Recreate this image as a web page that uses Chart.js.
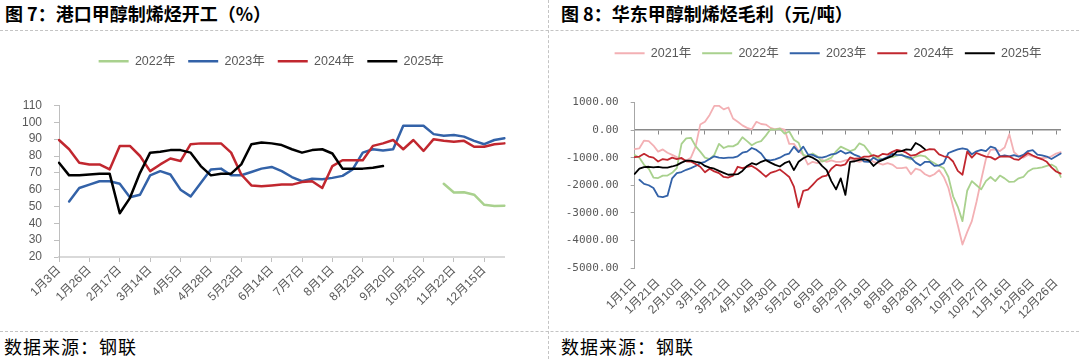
<!DOCTYPE html>
<html lang="zh-CN">
<head>
<meta charset="utf-8">
<title>甲醇制烯烃开工与毛利</title>
<script src="https://cdn.jsdelivr.net/npm/chart.js@4.4.1/dist/chart.umd.min.js"></script>
<style>
    html, body { margin: 0; padding: 0; background: #ffffff; }
    #pagina { position: relative; width: 1079px; height: 359px; overflow: hidden;
              font-family: "Noto Sans CJK SC", sans-serif; color: #000; }
    .titulo { position: absolute; top: 2px; font-size: 18px; font-weight: 700; line-height: 22px; white-space: nowrap; }
    .fonte { position: absolute; top: 335px; font-size: 18px; line-height: 22px; letter-spacing: 1px; white-space: nowrap; }
    .traco-h { position: absolute; left: 0; width: 1079px; height: 0; border-top: 1px dashed #C4C4C4; }
    .traco-v { position: absolute; left: 548px; top: 0; width: 0; height: 359px; border-left: 1px dashed #C4C4C4; }
    canvas { position: absolute; top: 31px; }
</style>
</head>
<body>
<div id="pagina">
    <div class="titulo" style="left:5px">图 7：港口甲醇制烯烃开工（%）</div>
    <div class="titulo" style="left:561px">图 8：华东甲醇制烯烃毛利（元/吨）</div>
    <div class="traco-h" style="top:30px"></div>
    <div class="traco-h" style="top:331px"></div>
    <div class="traco-v"></div>
    <canvas id="graficoKaigong" width="541" height="299" style="left:0"></canvas>
    <canvas id="graficoMargem" width="530" height="299" style="left:549px"></canvas>
    <div class="fonte" style="left:4px">数据来源：钢联</div>
    <div class="fonte" style="left:561px">数据来源：钢联</div>
</div>

<script>
// ==========================================
// DADOS
// ==========================================

// Gráfico 7: categorias semanais (rótulo visível a cada 3 pontos)
const datasKaigong = ['1月3日', '1月10日', '1月17日', '1月26日', '2月2日', '2月9日', '2月17日', '2月24日', '3月3日',
    '3月14日', '3月21日', '3月28日', '4月5日', '4月12日', '4月19日', '4月28日', '5月9日', '5月16日', '5月23日',
    '5月30日', '6月6日', '6月14日', '6月21日', '6月28日', '7月7日', '7月14日', '7月21日', '8月1日', '8月8日',
    '8月15日', '8月23日', '8月30日', '9月6日', '9月20日', '9月27日', '10月11日', '10月25日', '11月1日', '11月8日',
    '11月22日', '11月29日', '12月6日', '12月15日', '12月22日', '12月29日'];

const kaigong2022 = [null, null, null, null, null, null, null, null, null, null, null, null, null, null, null,
    null, null, null, null, null, null, null, null, null, null, null, null, null, null, null, null, null, null,
    null, null, null, null, null, 63.5, 58.3, 58.5, 57, 51, 50.3, 50.5];
const kaigong2023 = [null, 53, 61, 63, 65, 65, 63.5, 55.5, 57, 68.5, 71, 69, 60, 56, 64, 72, 72.5, 68.6, 68.6,
    70.5, 72.5, 73.5, 71, 67.5, 65, 66.5, 66.2, 67, 68.2, 72, 82, 84, 83.2, 84, 98, 98, 98, 93, 92, 92.5, 91.5,
    89, 87, 89.5, 90.5];
const kaigong2024 = [89.5, 84, 76, 75, 75, 72, 86, 86, 80, 71, 75, 78.5, 77, 87, 87.5, 87.5, 87.5, 82, 69, 62.5,
    62, 62.5, 63, 63, 64.5, 65, 61, 74, 77.5, 77.5, 77.5, 86, 87.5, 89.5, 84, 89.5, 83, 90, 89, 88.5, 89, 85.5,
    85.5, 87, 87.5];
const kaigong2025 = [76, 68.5, 68.5, 69, 69.5, 69.5, 46, 55, 70, 82, 82.5, 83.5, 83.5, 82, 74, 68.5, 69.5, 69.5,
    75, 87, 88, 87.5, 86.5, 84, 82, 83.5, 84, 81.5, 72.5, 72.5, 72.5, 73, 74];

// Gráfico 8: um ponto a cada 4 dias (ano bissexto), rótulo visível a cada 20 dias
const diasMargem = [];
for (let n = 0; n < 92; n++) {
    const dia = new Date(2024, 0, 1 + n * 4);
    diasMargem.push((dia.getMonth() + 1) + '月' + dia.getDate() + '日');
}

const margem2021 = [-690, -660, -380, -400, -560, -780, -700, -820, -900, -980, -1050, -1100, -1000, -600, 200,
    300, 550, 880, 880, 750, 820, 420, 300, 170, 80, 30, 300, 220, 200, 80, 30, 60, 20, -500, -500, -750, -900,
    -1250, -1150, -1200, -1080, -1150, -1100, -1150, -1150, -1100, -1050, -1100, -1150, -1100, -1050, -1150,
    -1200, -1250, -1200, -1250, -1380, -1380, -1350, -1600, -1400, -1450, -1600, -1680, -1600, -1450, -1700,
    -2100, -2780, -3450, -4150, -3700, -3300, -2600, -1800, -1050, -720, -700, -760, -630, -150, -800, -950,
    -1000, -900, -950, -1000, -1020, -1000, -950, -850, -800];
const margem2022 = [-900, -1000, -1260, -1400, -1720, -1740, -1650, -1650, -1550, -1380, -500, -300, -280, -580,
    -780, -1000, -1050, -900, -500, -650, -580, -590, -500, -260, -400, -550, -450, -400, -200, 30, 20, 50, -130,
    -50, -350, -460, -900, -950, -850, -950, -1140, -1080, -1000, -770, -600, -680, -760, -700, -480, -560, -780,
    -1000, -1000, -1080, -1000, -980, -930, -880, -1000, -1060, -960, -920, -950, -1100, -1200, -1300, -1380,
    -1700, -2400, -2780, -3300, -2200, -1850, -2000, -2150, -1850, -1700, -1850, -1650, -1750, -1880, -1870,
    -1750, -1700, -1500, -1400, -1380, -1350, -1300, -1250, -1350, -1700];
const margem2023 = [null, -1800, -1950, -2000, -2100, -2400, -2430, -2380, -1750, -1560, -1520, -1440, -1380,
    -1300, -1200, -1150, -1050, -950, -1000, -1020, -1000, -1000, -950, -820, -780, -650, -720, -850, -1080,
    -1100, -1060, -1000, -900, -850, -600, -800, -600, -880, -900, -980, -1000, -950, -880, -850, -750, -850,
    -800, -900, -960, -1140, -1150, -1000, -1100, -1050, -980, -860, -900, -910, -960, -1010, -1180, -1280,
    -1150, -1150, -1300, -1280, -1200, -830, -760, -700, -660, -700, -880, -770, -720, -760, -600, -650, -950,
    -920, -950, -910, -960, -900, -760, -730, -890, -920, -960, -1050, -950, -850];
const margem2024 = [-980, -960, -860, -960, -1000, -1140, -1050, -1080, -1000, -1050, -1010, -1130, -1140, -1230,
    -1330, -1530, -1400, -1500, -1560, -1700, -1720, -1650, -1330, -1380, -1330, -1300, -1400, -1540, -1690,
    -1550, -1500, -1430, -1560, -1700, -2050, -2800, -2200, -2160, -1990, -1800, -1690, -1650, -1400, -1260,
    -1290, -1240, -990, -1040, -1030, -960, -960, -910, -960, -860, -890, -790, -720, -750, -820, -930, -900,
    -800, -740, -690, -700, -880, -950, -980, -1140, -1480, -1620, -780, -1000, -830, -900, -960, -980, -1070,
    -960, -950, -960, -1050, -1080, -950, -830, -920, -1000, -1060, -1150, -1350, -1500, -1580];
const margem2025 = [-1590, -1400, -1340, -1330, -1350, -1330, -1360, -1360, -1320, -1270, -1180, -1110, -1110,
    -1150, -1180, -1300, -1360, -1400, -1480, -1550, -1620, -1610, -1600, -1480, -1300, -1200, -1250, -1150,
    -1090, -1180, -1260, -1320, -1200, -1130, -1450, -1150, -1020, -940, -1000, -1100, -1300, -1450, -1850,
    -2150, -1750, -2350, -1150, -1130, -1080, -1050, -1100, -1300, -1150, -1080, -1010, -940, -780, -760, -700,
    -720, -470, -560, -700];

// Cores das séries
const COR_2021 = '#F3B0B4';
const COR_2022 = '#A9D18E';
const COR_2023 = '#3362A8';
const COR_2024 = '#C1272F';
const COR_2025 = '#000000';
const COR_TEXTO = '#595959';
const FONTE = "'Liberation Sans', 'Noto Sans CJK SC', sans-serif";

// ==========================================
// CONFIGURAÇÃO DOS GRÁFICOS (Chart.js)
// ==========================================

document.addEventListener("DOMContentLoaded", () => {
    Chart.defaults.font.family = FONTE;
    Chart.defaults.color = COR_TEXTO;
    inicializarGraficoKaigong();
    inicializarGraficoMargem();
});

/**
 * Plugin: acrescenta espaço abaixo da legenda e desloca a legenda na horizontal
 */
const espacoLegenda = {
    id: 'espacoLegenda',
    beforeInit(chart, args, opts) {
        const fitOriginal = chart.legend.fit;
        chart.legend.fit = function () {
            fitOriginal.call(this);
            this.height += opts.extra || 0;
        };
    },
    afterLayout(chart, args, opts) {
        const dx = opts.deslocar || 0;
        chart.legend.left += dx;
        chart.legend.right += dx;
    }
};

function serie(rotulo, dados, cor, ordem, largura) {
    return {
        label: rotulo,
        data: dados,
        borderColor: cor,
        backgroundColor: cor,
        borderWidth: largura,
        order: ordem
    };
}

function legendaPadrao(espaco) {
    return {
        position: 'top',
        labels: {
            usePointStyle: true,
            pointStyle: 'line',
            pointStyleWidth: 30,
            padding: espaco,
            color: COR_TEXTO,
            font: { size: 12.5, family: FONTE },
            sort: (a, b) => a.datasetIndex - b.datasetIndex
        }
    };
}

/**
 * Gráfico 7: Taxa de operação MTO nos portos (%)
 */
function inicializarGraficoKaigong() {
    const ctxKaigong = document.getElementById('graficoKaigong');
    if (!ctxKaigong) return;

    new Chart(ctxKaigong.getContext('2d'), {
        type: 'line',
        data: {
            labels: datasKaigong,
            datasets: [
                serie('2022年', kaigong2022, COR_2022, 4, 2.5),
                serie('2023年', kaigong2023, COR_2023, 3, 2.5),
                serie('2024年', kaigong2024, COR_2024, 2, 2.5),
                serie('2025年', kaigong2025, COR_2025, 1, 2.5)
            ]
        },
        options: {
            responsive: false,
            animation: false,
            layout: { padding: { left: 0, right: 36.5, top: 11, bottom: 0 } },
            elements: {
                point: { radius: 0 },
                line: { tension: 0, borderJoinStyle: 'round', borderCapStyle: 'round' }
            },
            plugins: {
                legend: legendaPadrao(13),
                tooltip: { enabled: false },
                espacoLegenda: { extra: 28, deslocar: 19 }
            },
            scales: {
                x: {
                    grid: {
                        drawOnChartArea: false,
                        tickLength: 5,
                        tickColor: (c) => c.index % 3 === 0 ? '#BFBFBF' : 'rgba(0,0,0,0)'
                    },
                    border: { color: '#D9D9D9', width: 2 },
                    ticks: {
                        autoSkip: false,
                        minRotation: 45,
                        maxRotation: 45,
                        padding: 1,
                        color: COR_TEXTO,
                        font: { size: 12 },
                        callback: function (valor, i) {
                            return i % 3 === 0 ? this.getLabelForValue(valor) : '';
                        }
                    },
                    afterFit: (escala) => { escala.height = 73; }
                },
                y: {
                    min: 20,
                    max: 110,
                    ticks: { stepSize: 10, autoSkip: false, padding: 12, color: COR_TEXTO, font: { size: 12 } },
                    grid: { drawOnChartArea: false, tickLength: 5, tickColor: '#BFBFBF' },
                    border: { color: '#BFBFBF' },
                    afterFit: (escala) => { escala.width = 59; }
                }
            }
        },
        plugins: [espacoLegenda]
    });
}

/**
 * Gráfico 8: Margem bruta MTO no leste da China (元/吨)
 */
function inicializarGraficoMargem() {
    const ctxMargem = document.getElementById('graficoMargem');
    if (!ctxMargem) return;

    new Chart(ctxMargem.getContext('2d'), {
        type: 'line',
        data: {
            labels: diasMargem,
            datasets: [
                serie('2021年', margem2021, COR_2021, 5, 1.8),
                serie('2022年', margem2022, COR_2022, 4, 1.8),
                serie('2023年', margem2023, COR_2023, 3, 1.8),
                serie('2024年', margem2024, COR_2024, 2, 1.8),
                serie('2025年', margem2025, COR_2025, 1, 1.8)
            ]
        },
        options: {
            responsive: false,
            animation: false,
            layout: { padding: { left: 0, right: 11, top: 5, bottom: 0 } },
            elements: {
                point: { radius: 0 },
                line: { tension: 0, borderJoinStyle: 'round', borderCapStyle: 'round' }
            },
            plugins: {
                legend: legendaPadrao(11),
                tooltip: { enabled: false },
                espacoLegenda: { extra: 33, deslocar: 19.5 }
            },
            scales: {
                x: {
                    grid: { display: false, drawTicks: false },
                    border: { display: false },
                    ticks: {
                        autoSkip: false,
                        minRotation: 45,
                        maxRotation: 45,
                        padding: 8,
                        color: COR_TEXTO,
                        font: { size: 12 },
                        callback: function (valor, i) {
                            return i % 5 === 0 ? this.getLabelForValue(valor) : '';
                        }
                    },
                    afterFit: (escala) => { escala.height = 62; }
                },
                // eixo horizontal desenhado sobre o zero (só linha e marcas)
                eixoZero: {
                    type: 'category',
                    axis: 'x',
                    position: { y: 0 },
                    grid: {
                        drawOnChartArea: false,
                        tickLength: 4,
                        tickColor: (c) => c.index % 5 === 0 ? '#898989' : 'rgba(0,0,0,0)'
                    },
                    border: { color: '#898989', width: 1.5 },
                    ticks: { display: false, autoSkip: false }
                },
                y: {
                    min: -5000,
                    max: 1000,
                    ticks: {
                        stepSize: 1000,
                        autoSkip: false,
                        padding: 12,
                        color: COR_TEXTO,
                        font: { size: 11, family: "'DejaVu Sans Mono', monospace" },
                        callback: (valor) => valor.toFixed(2)
                    },
                    grid: { drawOnChartArea: false, tickLength: 4, tickColor: '#A6A6A6' },
                    border: { color: '#A6A6A6' },
                    afterFit: (escala) => { escala.width = 85.7; }
                }
            }
        },
        plugins: [espacoLegenda]
    });
}
</script>
</body>
</html>
